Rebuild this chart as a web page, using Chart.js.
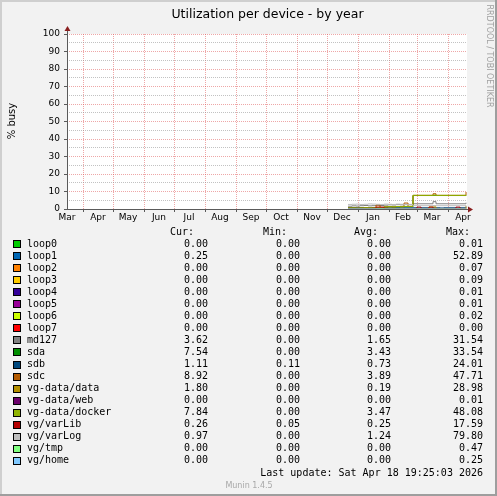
<!DOCTYPE html>
<html>
<head>
<meta charset="utf-8">
<script src="https://cdn.jsdelivr.net/npm/chart.js@4.4.1/dist/chart.umd.min.js"></script>
<style>
  html, body { margin: 0; padding: 0; background: #f2f2f2; }
  canvas { display: block; }
</style>
</head>
<body>
<canvas id="chart" width="497" height="496"></canvas>
<script>
// ---- data (x = days since 2025-03-16, the left edge of the year graph) ----
const monthStarts = [16, 46, 77, 107, 138, 169, 199, 230, 260, 291, 322, 350, 381];
const labelDays   = [0, 31, 61, 92, 122, 153, 184, 214, 245, 275, 306, 336, 365, 396];
const monthNames  = ['Mar', 'Apr', 'May', 'Jun', 'Jul', 'Aug', 'Sep', 'Oct', 'Nov', 'Dec', 'Jan', 'Feb', 'Mar', 'Apr'];
const yTicks      = [0, 10, 20, 30, 40, 50, 60, 70, 80, 90, 100];

const days     = [281, 285, 289, 293, 297, 301, 305, 309, 313, 317, 321, 325, 329, 333, 337, 341,
                  346, 350, 354, 358, 362, 366, 369, 373, 377, 381, 385, 389, 393, 397, 399];
const flatDays = [281, 399];

const loop0Busy  = [0.00, 0.00];
const loop1Busy  = [0.00, 0.25];
const loop2Busy  = [0.00, 0.00];
const loop3Busy  = [0.00, 0.00];
const loop4Busy  = [0.00, 0.00];
const loop5Busy  = [0.00, 0.00];
const loop6Busy  = [0.00, 0.00];
const loop7Busy  = [0.00, 0.00];
const md127Busy  = [1.6, 1.8, 1.7, 1.9, 2.0, 1.8, 1.9, 2.1, 2.0, 2.2, 2.4, 2.3, 2.5, 2.4, 2.6, 2.6,
                    3.0, 3.0, 3.0, 3.0, 3.0, 4.2, 3.0, 3.0, 3.0, 3.0, 3.0, 3.0, 3.0, 3.0, 3.6];
const sdaBusy    = [0.5, 0.5, 0.4, 0.5, 0.6, 0.5, 0.5, 0.6, 0.5, 1.1, 1.2, 1.1, 1.3, 1.2, 1.4, 1.4,
                    7.7, 7.7, 7.7, 7.7, 7.7, 7.8, 7.7, 7.7, 7.7, 7.7, 7.7, 7.7, 7.7, 7.7, 7.5];
const sdbBusy    = [0.8, 0.8, 0.7, 0.8, 0.8, 0.7, 0.7, 0.6, 0.7, 0.7, 0.6, 0.7, 0.7, 0.6, 0.7, 0.7,
                    0.7, 0.6, 0.7, 0.7, 0.6, 0.7, 0.7, 0.6, 0.7, 0.7, 0.7, 0.6, 0.7, 0.7, 1.1];
const sdcBusy    = [0.6, 0.6, 0.5, 0.6, 0.7, 0.6, 0.6, 2.3, 0.6, 1.2, 1.3, 1.2, 1.4, 1.3, 3.4, 1.5,
                    7.8, 7.8, 7.8, 7.8, 7.8, 8.7, 7.8, 7.8, 7.8, 7.8, 7.8, 7.8, 7.8, 7.8, 9.7];
const dataBusy   = [0.1, 0.1, 0.1, 0.1, 0.1, 0.1, 0.1, 0.1, 0.1, 0.2, 0.2, 0.2, 0.2, 0.2, 0.2, 0.2,
                    0.2, 0.2, 0.2, 0.2, 1.2, 1.2, 0.2, 0.2, 0.2, 0.2, 0.2, 0.2, 0.2, 0.2, 1.8];
const webBusy    = [0.00, 0.00];
const dockerBusy = [0.6, 0.6, 0.5, 0.6, 0.7, 0.6, 0.6, 0.7, 0.6, 1.2, 1.3, 1.2, 1.4, 1.3, 1.5, 1.5,
                    7.8, 7.8, 7.8, 7.8, 7.8, 7.9, 7.8, 7.8, 7.8, 7.8, 7.8, 7.8, 7.8, 7.8, 8.0];
const varLibBusy = [0.3, 0.3, 0.3, 0.3, 0.3, 0.3, 0.4, 1.1, 1.1, 0.4, 0.3, 0.3, 0.3, 0.3, 0.3, 0.3,
                    0.3, 1.1, 0.3, 0.3, 1.1, 0.3, 0.3, 0.3, 0.3, 0.3, 0.3, 1.1, 0.3, 0.3, 0.3];
const varLogBusy = [2.6, 2.7, 2.8, 2.6, 2.7, 2.9, 2.8, 2.7, 2.6, 2.8, 2.7, 2.6, 2.8, 2.7, 2.6, 2.5,
                    1.9, 1.9, 1.9, 1.9, 1.9, 2.0, 1.9, 1.9, 1.9, 1.9, 1.9, 1.9, 1.9, 1.9, 1.0];
const tmpBusy    = [0.00, 0.00];
const homeBusy   = [0.00, 0.00];

const names  = ['loop0', 'loop1', 'loop2', 'loop3', 'loop4', 'loop5', 'loop6', 'loop7', 'md127', 'sda', 'sdb', 'sdc',
                'vg-data/data', 'vg-data/web', 'vg-data/docker', 'vg/varLib', 'vg/varLog', 'vg/tmp', 'vg/home'];
const colors = ['#00CC00', '#0066B3', '#FF8000', '#FFCC00', '#330099', '#990099', '#CCFF00', '#FF0000', '#808080', '#008F00',
                '#00487D', '#B35A00', '#B38F00', '#6B006B', '#8FB300', '#B30000', '#BEBEBE', '#80FF80', '#80C9FF'];
const curVals = [0.00, 0.25, 0.00, 0.00, 0.00, 0.00, 0.00, 0.00, 3.62, 7.54, 1.11, 8.92, 1.80, 0.00, 7.84, 0.26, 0.97, 0.00, 0.00];
const minVals = [0.00, 0.00, 0.00, 0.00, 0.00, 0.00, 0.00, 0.00, 0.00, 0.00, 0.11, 0.00, 0.00, 0.00, 0.00, 0.05, 0.00, 0.00, 0.00];
const avgVals = [0.00, 0.00, 0.00, 0.00, 0.00, 0.00, 0.00, 0.00, 1.65, 3.43, 0.73, 3.89, 0.19, 0.00, 3.47, 0.25, 1.24, 0.00, 0.00];
const maxVals = [0.01, 52.89, 0.07, 0.09, 0.01, 0.01, 0.02, 0.00, 31.54, 33.54, 24.01, 47.71, 28.98, 0.01, 48.08, 17.59, 79.80, 0.47, 0.25];

const seriesX = [flatDays, flatDays, flatDays, flatDays, flatDays, flatDays, flatDays, flatDays, days, days, days, days,
                 days, flatDays, days, days, days, flatDays, flatDays];
const seriesY = [loop0Busy, loop1Busy, loop2Busy, loop3Busy, loop4Busy, loop5Busy, loop6Busy, loop7Busy, md127Busy, sdaBusy,
                 sdbBusy, sdcBusy, dataBusy, webBusy, dockerBusy, varLibBusy, varLogBusy, tmpBusy, homeBusy];

// rrdtool default colours
const GRID  = 'rgba(143,143,143,0.55)';
const MGRID = 'rgba(222,79,79,0.5)';
const AXIS  = '#5a5a5a';
const ARROW = '#8a1f1f';

const datasets = names.map((name, i) => ({
  label: name,
  data: seriesX[i].map((x, j) => ({ x, y: seriesY[i][j] })),
  borderColor: colors[i],
  backgroundColor: colors[i],
  borderWidth: 1,
  stepped: true,
  pointRadius: 0,
  fill: false,
  order: names.length - i   // later series on top, like rrdtool
}));

const fmt = v => v.toFixed(2);

const muninFrame = {
  id: 'muninFrame',
  beforeDraw(chart) {
    const { ctx, chartArea: a } = chart;
    const W = chart.width, H = chart.height;
    ctx.save();
    ctx.fillStyle = '#f2f2f2';
    ctx.fillRect(0, 0, W, H);
    // 3D shade
    ctx.fillStyle = '#cfcfcf';
    ctx.fillRect(0, 0, W, 2);
    ctx.fillRect(0, 0, 2, H);
    ctx.fillStyle = '#9e9e9e';
    ctx.fillRect(W - 2, 0, 2, H);
    ctx.fillRect(0, H - 2, W, 2);
    ctx.fillStyle = '#ffffff';
    ctx.fillRect(a.left, a.top, a.right - a.left, a.bottom - a.top);
    ctx.restore();
  },
  afterDatasetsDraw(chart) {
    const { ctx, chartArea: a } = chart;
    ctx.save();
    ctx.strokeStyle = AXIS;
    ctx.lineWidth = 1;
    ctx.beginPath();
    ctx.moveTo(a.left + 0.5, a.bottom);
    ctx.lineTo(a.left + 0.5, a.top - 3);
    ctx.moveTo(a.left, a.bottom + 0.5);
    ctx.lineTo(a.right + 1, a.bottom + 0.5);
    ctx.stroke();
    ctx.fillStyle = ARROW;
    ctx.beginPath();
    ctx.moveTo(a.left - 2.5, a.top - 3);
    ctx.lineTo(a.left + 3.5, a.top - 3);
    ctx.lineTo(a.left + 0.5, a.top - 8);
    ctx.closePath();
    ctx.fill();
    ctx.beginPath();
    ctx.moveTo(a.right + 1, a.bottom - 2.5);
    ctx.lineTo(a.right + 1, a.bottom + 3.5);
    ctx.lineTo(a.right + 6, a.bottom + 0.5);
    ctx.closePath();
    ctx.fill();
    ctx.restore();
  },
  afterDraw(chart) {
    const { ctx } = chart;
    ctx.save();
    ctx.fillStyle = '#000';
    // title
    ctx.font = '12.5px "DejaVu Sans"';
    ctx.textAlign = 'center';
    ctx.textBaseline = 'alphabetic';
    ctx.fillText('Utilization per device - by year', 267.5, 18);
    // vertical label
    ctx.save();
    ctx.translate(12, 121);
    ctx.rotate(-Math.PI / 2);
    ctx.font = '10px "DejaVu Sans"';
    ctx.textBaseline = 'middle';
    ctx.fillText('% busy', 0, 0);
    ctx.restore();
    // rrdtool credit
    ctx.save();
    ctx.translate(485, 56);
    ctx.rotate(Math.PI / 2);
    ctx.font = '8px "DejaVu Sans"';
    ctx.fillStyle = '#a0a0a0';
    ctx.textBaseline = 'bottom';
    ctx.fillText('RRDTOOL / TOBI OETIKER', 0, 0);
    ctx.restore();

    // legend table
    ctx.font = '10px "DejaVu Sans Mono"';
    ctx.textBaseline = 'middle';
    ctx.fillStyle = '#000';
    ctx.textAlign = 'right';
    const heads = ['Cur:', 'Min:', 'Avg:', 'Max:'];
    const headX = [194, 287, 378, 470];
    const valX  = [208, 300, 391, 483];
    heads.forEach((h, k) => ctx.fillText(h, headX[k], 232));
    names.forEach((name, i) => {
      const y = 244 + i * 12.05;
      ctx.fillStyle = colors[i];
      ctx.fillRect(13, Math.round(y) - 4, 8, 8);
      ctx.strokeStyle = '#000';
      ctx.lineWidth = 1;
      ctx.strokeRect(13.5, Math.round(y) - 3.5, 7, 7);
      ctx.fillStyle = '#000';
      ctx.textAlign = 'left';
      ctx.fillText(name, 27, y);
      ctx.textAlign = 'right';
      [curVals, minVals, avgVals, maxVals].forEach((col, k) => ctx.fillText(fmt(col[i]), valX[k], y));
    });
    ctx.fillText('Last update: Sat Apr 18 19:25:03 2026', 483, 473);
    ctx.font = '8px "DejaVu Sans"';
    ctx.fillStyle = '#a8a8a8';
    ctx.textAlign = 'center';
    ctx.textBaseline = 'alphabetic';
    ctx.fillText('Munin 1.4.5', 249, 488);
    ctx.restore();
  }
};

new Chart(document.getElementById('chart'), {
  type: 'line',
  data: { datasets },
  options: {
    responsive: false,
    animation: false,
    devicePixelRatio: 1,
    layout: { padding: { left: 0, top: 34, right: 30, bottom: 267 } },
    plugins: { legend: { display: false }, tooltip: { enabled: false } },
    scales: {
      x: {
        type: 'linear',
        min: 0,
        max: 400,
        afterBuildTicks: s => {
          s.ticks = [...monthStarts, ...labelDays].sort((a, b) => a - b).map(v => ({ value: v }));
        },
        afterFit: s => { s.height = 20; },
        border: { display: false, dash: [1, 1] },
        grid: {
          color: c => monthStarts.includes(c.tick.value) ? MGRID : 'rgba(0,0,0,0)',
          tickColor: c => monthStarts.includes(c.tick.value) ? AXIS : 'rgba(0,0,0,0)',
          tickLength: 3,
          lineWidth: 1
        },
        ticks: {
          autoSkip: false,
          maxRotation: 0,
          padding: 0,
          color: '#000',
          font: { family: 'DejaVu Sans', size: 9 },
          callback: v => {
            const k = labelDays.indexOf(v);
            return k >= 0 ? monthNames[k] : '';
          }
        }
      },
      y: {
        min: 0,
        max: 100,
        afterFit: s => { s.width = 67; },
        border: { display: false, dash: [1, 1] },
        grid: {
          color: c => c.tick.value % 10 === 0 ? MGRID : GRID,
          tickColor: c => c.tick.value % 10 === 0 ? AXIS : 'rgba(0,0,0,0)',
          tickLength: 3,
          lineWidth: 1
        },
        ticks: {
          stepSize: 5,
          autoSkip: false,
          padding: 4,
          color: '#000',
          font: { family: 'DejaVu Sans', size: 9 },
          callback: v => yTicks.includes(v) ? v : ''
        }
      }
    }
  },
  plugins: [muninFrame]
});
</script>
</body>
</html>
